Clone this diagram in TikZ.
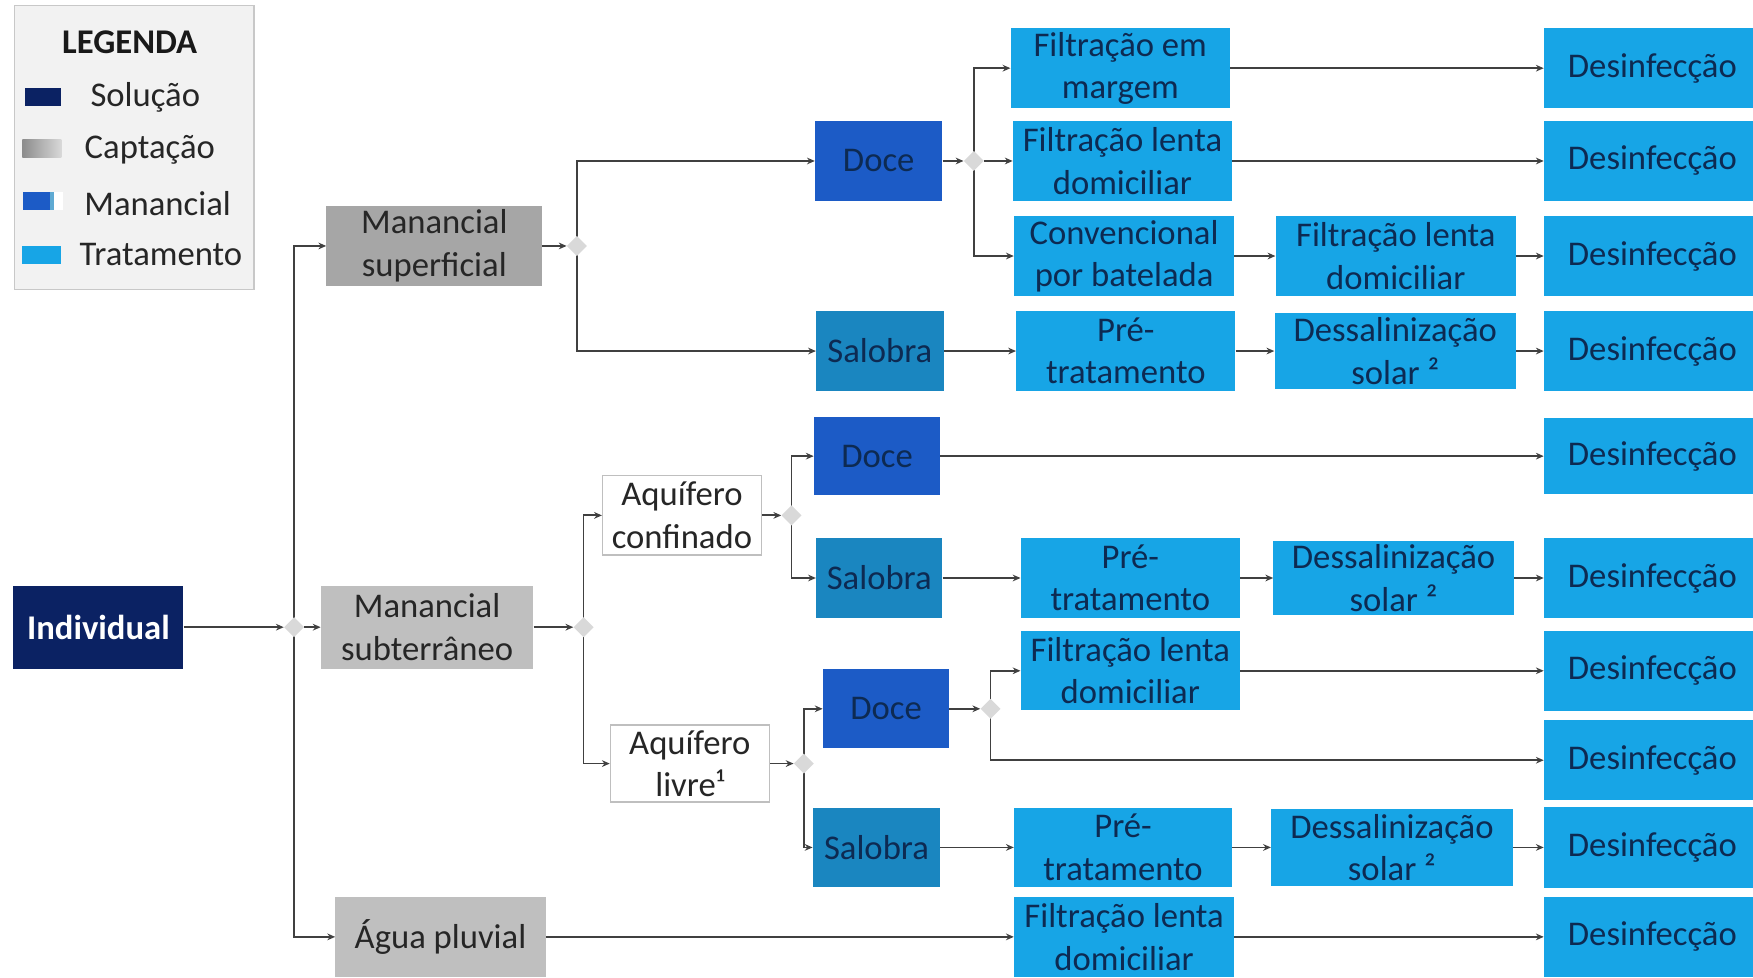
\documentclass[tikz,border=0pt]{standalone}
\usepackage{fontspec}
\setmainfont{Carlito}
\usetikzlibrary{shapes.geometric,arrows.meta}
\pgfdeclarelayer{bg}
\pgfsetlayers{bg,main}
\definecolor{navy}{HTML}{0B2263}
\definecolor{doce}{HTML}{1C5BC6}
\definecolor{salobra}{HTML}{1A86C0}
\definecolor{trat}{HTML}{17A5E6}
\definecolor{txt}{HTML}{0D2A52}
\definecolor{gsup}{HTML}{A6A6A6}
\definecolor{gsub}{HTML}{BFBFBF}
\definecolor{lnc}{HTML}{404040}
\definecolor{juncc}{HTML}{D9D9D9}
\definecolor{legbg}{HTML}{F2F2F2}
\definecolor{legbd}{HTML}{C8C8C8}
\tikzset{
  wh/.style 2 args={minimum width=#1pt, minimum height=#2pt},
  box/.style={rectangle, inner sep=0pt, align=center, text=txt},
  sol/.style={box, fill=navy, text=white, font=\fontsize{31}{38}\selectfont\bfseries},
  capd/.style={box, fill=gsup, text=black!85},
  capl/.style={box, fill=gsub, text=black!85},
  aq/.style={box, fill=white, draw=gsub, line width=1.2pt, text=black!85},
  mdoce/.style={box, fill=doce},
  msal/.style={box, fill=salobra},
  trt/.style={box, fill=trat},
  dsf/.style={trt, wh={194}{72}},
  jn/.style={diamond, fill=juncc, inner sep=0pt, minimum width=18pt, minimum height=18pt},
  arr/.style={draw=lnc, line width=1.6pt, -{Stealth[length=7pt,width=6pt]}},
}
\begin{document}
\begin{tikzpicture}[x=1pt,y=-1pt, font=\fontsize{31}{38}\selectfont]
\useasboundingbox (0,0) rectangle (1568,874);
\clip (0,0) rectangle (1568,874);
% legend
\node[rectangle, fill=legbg, draw=legbd, line width=1.5pt, minimum width=214pt, minimum height=254pt, inner sep=0pt] (leg) at (120,132) {};
\node[text=black!90, font=\fontsize{31}{38}\selectfont\bfseries] (legt) at (116,38) {LEGENDA};
\fill[navy] (22,79) rectangle (55,95);
\shade[left color=black!45, right color=black!15] (20,125) rectangle (55,141);
\fill[doce] (20.5,172) rectangle (44.5,188);
\fill[salobra!70] (44.5,172) rectangle (48.5,188);
\fill[white] (48.5,172) rectangle (56,188);
\fill[trat] (20,220) rectangle (55,236);
\node[text=black!85] (l1) at (130,87) {Solução};
\node[text=black!85] (l2) at (134,134) {Captação};
\node[text=black!85] (l3) at (141,182) {Manancial};
\node[text=black!85] (l4) at (144,228) {Tratamento};
% main nodes
\node[sol, wh={152}{74}] (ind) at (88,561) {Individual};
\node[capd, wh={193}{71}] (msup) at (388.5,220) {Manancial\\superficial};
\node[capl, wh={190}{74}] (msub) at (382,561) {Manancial\\subterrâneo};
\node[capl, wh={188}{72}] (agua) at (394,838) {Água pluvial};
\node[aq, wh={142}{71}] (ac) at (610,461) {Aquífero\\confinado};
\node[aq, wh={142}{69}] (al) at (617,683) {Aquífero\\livre¹};
\node[mdoce, wh={114}{72}] (doce1) at (786,144) {Doce};
\node[msal, wh={114}{72}] (sal1) at (787,314) {Salobra};
\node[mdoce, wh={113}{70}] (doce2) at (784.5,408) {Doce};
\node[msal, wh={113}{71}] (sal2) at (786.5,517) {Salobra};
\node[mdoce, wh={113}{71}] (doce3) at (792.5,634) {Doce};
\node[msal, wh={114}{71}] (sal3) at (784,758) {Salobra};
\node[trt, wh={196}{72}] (fm) at (1002,61) {Filtração em\\margem};
\node[trt, wh={196}{72}] (fl1) at (1004,144) {Filtração lenta\\domiciliar};
\node[trt, wh={197}{71}] (conv) at (1005.5,229) {Convencional\\por batelada};
\node[trt, wh={215}{71}] (fl2) at (1248.5,229) {Filtração lenta\\domiciliar};
\node[trt, wh={196}{71}] (pre1) at (1007,314) {Pré-\\tratamento};
\node[trt, wh={216}{68}] (des1) at (1248,314) {Dessalinização\\solar ²};
\node[trt, wh={196}{71}] (pre2) at (1011,517) {Pré-\\tratamento};
\node[trt, wh={215}{66}] (des2) at (1246.5,517) {Dessalinização\\solar ²};
\node[trt, wh={196}{71}] (fl3) at (1011,600) {Filtração lenta\\domiciliar};
\node[trt, wh={195}{71}] (pre3) at (1004.5,758) {Pré-\\tratamento};
\node[trt, wh={216}{69}] (des3) at (1245,758) {Dessalinização\\solar ²};
\node[trt, wh={197}{72}] (fl4) at (1005.5,838) {Filtração lenta\\domiciliar};
\node[dsf] (D1) at (1478,61) {Desinfecção};
\node[dsf] (D2) at (1478,144) {Desinfecção};
\node[dsf] (D3) at (1478,229) {Desinfecção};
\node[dsf] (D4) at (1478,314) {Desinfecção};
\node[dsf, wh={194}{68}] (D5) at (1478,408) {Desinfecção};
\node[dsf] (D6) at (1478,517) {Desinfecção};
\node[dsf] (D7) at (1478,600) {Desinfecção};
\node[dsf] (D8) at (1478,680) {Desinfecção};
\node[dsf] (D9) at (1478,758) {Desinfecção};
\node[dsf] (D10) at (1478,838) {Desinfecção};
% junctions
\node[jn] (j1) at (263,561) {};
\node[jn] (j2) at (516,220) {};
\node[jn] (j3) at (871,144) {};
\node[jn] (j4) at (522,561) {};
\node[jn] (j5) at (708,461) {};
\node[jn] (j6) at (719,683) {};
\node[jn] (j7) at (886,634) {};
% connectors
\begin{pgfonlayer}{bg}
\draw[arr] (ind) -- (j1);
\draw[arr] (j1.center) |- (msup);
\draw[arr] (j1) -- (msub);
\draw[arr] (j1.center) |- (agua);
\draw[arr] (msup) -- (j2);
\draw[arr] (j2.center) |- (doce1);
\draw[arr] (j2.center) |- (sal1);
\draw[arr] (doce1) -- (j3);
\draw[arr] (j3.center) |- (fm);
\draw[arr] (j3) -- (fl1);
\draw[arr] (j3.center) |- (conv);
\draw[arr] (fm) -- (D1);
\draw[arr] (fl1) -- (D2);
\draw[arr] (conv) -- (fl2);
\draw[arr] (fl2) -- (D3);
\draw[arr] (sal1) -- (pre1);
\draw[arr] (pre1) -- (des1);
\draw[arr] (des1) -- (D4);
\draw[arr] (msub) -- (j4);
\draw[arr] (j4.center) |- (ac);
\draw[arr] (j4.center) |- (al);
\draw[arr] (ac) -- (j5);
\draw[arr] (j5.center) |- (doce2);
\draw[arr] (j5.center) |- (sal2);
\draw[arr] (doce2) -- (D5);
\draw[arr] (sal2) -- (pre2);
\draw[arr] (pre2) -- (des2);
\draw[arr] (des2) -- (D6);
\draw[arr] (al) -- (j6);
\draw[arr] (j6.center) |- (doce3);
\draw[arr] (j6.center) |- (sal3);
\draw[arr] (doce3) -- (j7);
\draw[arr] (j7.center) |- (fl3);
\draw[arr] (j7.center) |- (D8);
\draw[arr] (fl3) -- (D7);
\draw[arr] (sal3) -- (pre3);
\draw[arr] (pre3) -- (des3);
\draw[arr] (des3) -- (D9);
\draw[arr] (agua) -- (fl4);
\draw[arr] (fl4) -- (D10);
\end{pgfonlayer}
\end{tikzpicture}
\end{document}
